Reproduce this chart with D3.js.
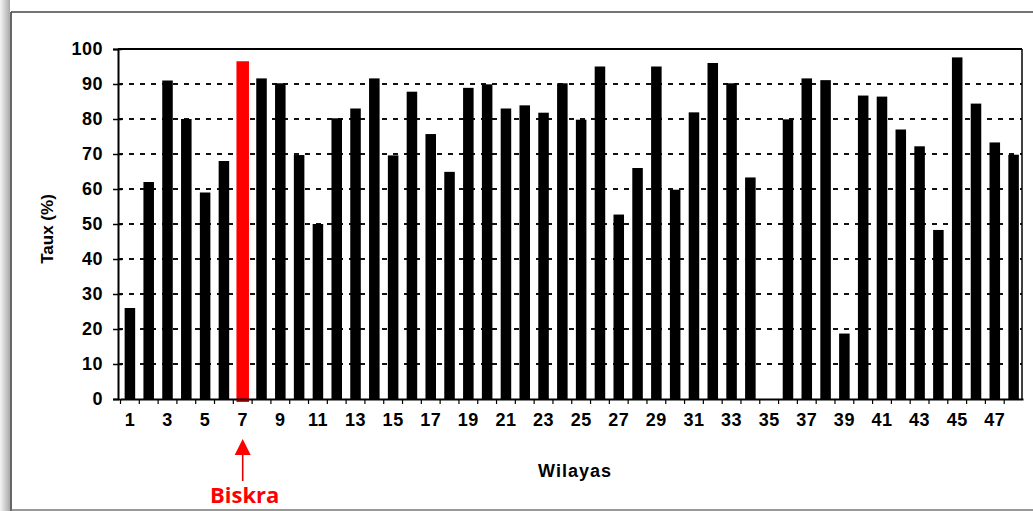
<!DOCTYPE html>
<html>
<head>
<meta charset="utf-8">
<script src="https://cdn.jsdelivr.net/npm/d3@7"></script>
<style>
  html, body { margin: 0; padding: 0; background: #fff; }
  svg { display: block; }
</style>
</head>
<body>
<svg id="chart" width="1033" height="511"></svg>
<script>
// ---- data ----
const wilayas = d3.range(1, 49);
const taux = [26, 62, 91, 80, 59, 68, 96.5, 91.6, 90.2, 69.7,
              50, 80.2, 83, 91.6, 69.6, 87.8, 75.7, 64.9, 88.9, 89.9,
              83, 83.9, 81.8, 90.2, 79.8, 95, 52.7, 66, 95, 59.8,
              81.9, 96, 90.2, 63.3, 0, 79.9, 91.6, 91.1, 18.7, 86.7,
              86.4, 77, 72.2, 48.3, 97.6, 84.4, 73.3, 69.8];
const yTicks = [0, 10, 20, 30, 40, 50, 60, 70, 80, 90, 100];
const xTickLabels = wilayas.filter(d => d % 2 === 1);
const highlight = 7;
const highlightName = "Biskra";
const yTitle = "Taux (%)";
const xTitle = "Wilayas";

// ---- layout ----
const svg = d3.select("#chart");
const pLeft = 118, pRight = 1022, pTop = 49, pBottom = 399;

// outer frame with scanned-page shadow
const grad = svg.append("defs").append("linearGradient").attr("id", "shadow")
  .attr("x1", 0).attr("x2", 1).attr("y1", 0).attr("y2", 0);
grad.append("stop").attr("offset", 0).attr("stop-color", "#f4f4f4");
grad.append("stop").attr("offset", 1).attr("stop-color", "#a9a9a9");
svg.append("rect").attr("x", 0).attr("y", 0).attr("width", 10).attr("height", 511).attr("fill", "url(#shadow)");
svg.append("line").attr("x1", 11).attr("x2", 1033).attr("y1", 12).attr("y2", 12).attr("stroke", "#444").attr("stroke-width", 1.5);
svg.append("line").attr("x1", 11).attr("x2", 11).attr("y1", 12).attr("y2", 511).attr("stroke", "#333").attr("stroke-width", 1.5);
svg.append("line").attr("x1", 11).attr("x2", 1033).attr("y1", 510).attr("y2", 510).attr("stroke", "#777").attr("stroke-width", 1.5);

const x = d3.scaleBand().domain(wilayas).range([120.5, 1023]).paddingInner(0.44).paddingOuter(0.22);
const y = d3.scaleLinear().domain([0, 100]).range([pBottom, pTop]);

// grid lines (dashed)
svg.append("g").selectAll("line").data(yTicks.filter(t => t > 0 && t < 100)).join("line")
  .attr("x1", pLeft).attr("x2", pRight)
  .attr("y1", d => y(d)).attr("y2", d => y(d))
  .attr("stroke", "#111").attr("stroke-width", 2).attr("stroke-dasharray", "5,6");

// bars
svg.append("g").selectAll("rect").data(wilayas.map((w, i) => ({w, v: taux[i]})).filter(d => d.v > 0)).join("rect")
  .attr("x", d => d.w === highlight ? x(d.w) - 1 : x(d.w))
  .attr("width", d => d.w === highlight ? x.bandwidth() + 2 : x.bandwidth())
  .attr("y", d => y(d.v))
  .attr("height", d => y(0) - y(d.v) + (d.w === highlight ? 3 : 0))
  .attr("fill", d => d.w === highlight ? "#ff0000" : "#000");

// plot border top and right
svg.append("line").attr("x1", pLeft).attr("x2", pRight).attr("y1", pTop).attr("y2", pTop).attr("stroke", "#000").attr("stroke-width", 2);
svg.append("line").attr("x1", pRight).attr("x2", pRight).attr("y1", pTop).attr("y2", pBottom).attr("stroke", "#000").attr("stroke-width", 1.5);

// y axis
const yAxis = svg.append("g").attr("transform", `translate(${pLeft},0)`)
  .call(d3.axisLeft(y).tickValues(yTicks).tickSize(5).tickPadding(10));
yAxis.select(".domain").attr("stroke", "#000").attr("stroke-width", 2);
yAxis.selectAll(".tick line").attr("stroke", "#000").attr("stroke-width", 1.5).attr("x2", 4).attr("x1", -5);
yAxis.selectAll("text").attr("font-family", "Liberation Sans, Arial, sans-serif")
  .attr("font-weight", "bold").attr("font-size", 18).attr("fill", "#000")
  .attr("letter-spacing", "0.5px");

// x axis
const xAxis = svg.append("g").attr("transform", `translate(0,${pBottom})`)
  .call(d3.axisBottom(x).tickValues(xTickLabels).tickSize(0).tickPadding(14));
xAxis.select(".domain").attr("stroke", "#000").attr("stroke-width", 2);
xAxis.selectAll("text").attr("font-family", "Liberation Sans, Arial, sans-serif")
  .attr("font-weight", "bold").attr("font-size", 18).attr("fill", "#000")
  .attr("letter-spacing", "0.5px");
// ticks at band boundaries
const step = x.step();
svg.append("g").selectAll("line").data(wilayas).join("line")
  .attr("x1", d => x(d) + x.bandwidth() / 2 - step / 2)
  .attr("x2", d => x(d) + x.bandwidth() / 2 - step / 2)
  .attr("y1", pBottom).attr("y2", pBottom + 5)
  .attr("stroke", "#000").attr("stroke-width", 1.2);

// axis titles
svg.append("text").attr("transform", `translate(53,${(pTop + pBottom) / 2 + 5}) rotate(-90)`)
  .attr("text-anchor", "middle").attr("font-family", "Liberation Sans, Arial, sans-serif")
  .attr("font-weight", "bold").attr("font-size", 17).text(yTitle);
svg.append("text").attr("x", 575).attr("y", 477)
  .attr("text-anchor", "middle").attr("font-family", "Liberation Sans, Arial, sans-serif")
  .attr("font-weight", "bold").attr("font-size", 18).attr("letter-spacing", "1px").text(xTitle);

// highlight annotation
const hx = x(highlight) + x.bandwidth() / 2;
svg.append("line").attr("x1", hx).attr("x2", hx).attr("y1", 452).attr("y2", 481)
  .attr("stroke", "#e00000").attr("stroke-width", 1.6);
svg.append("path").attr("d", `M${hx},439 L${hx - 8},455 L${hx + 8},455 Z`).attr("fill", "#ff0000");
svg.append("text").attr("x", hx + 2).attr("y", 503)
  .attr("text-anchor", "middle").attr("font-family", "Open Sans, sans-serif")
  .attr("font-weight", "bold").attr("font-size", 22).attr("fill", "#ff0000").text(highlightName);
</script>
</body>
</html>
